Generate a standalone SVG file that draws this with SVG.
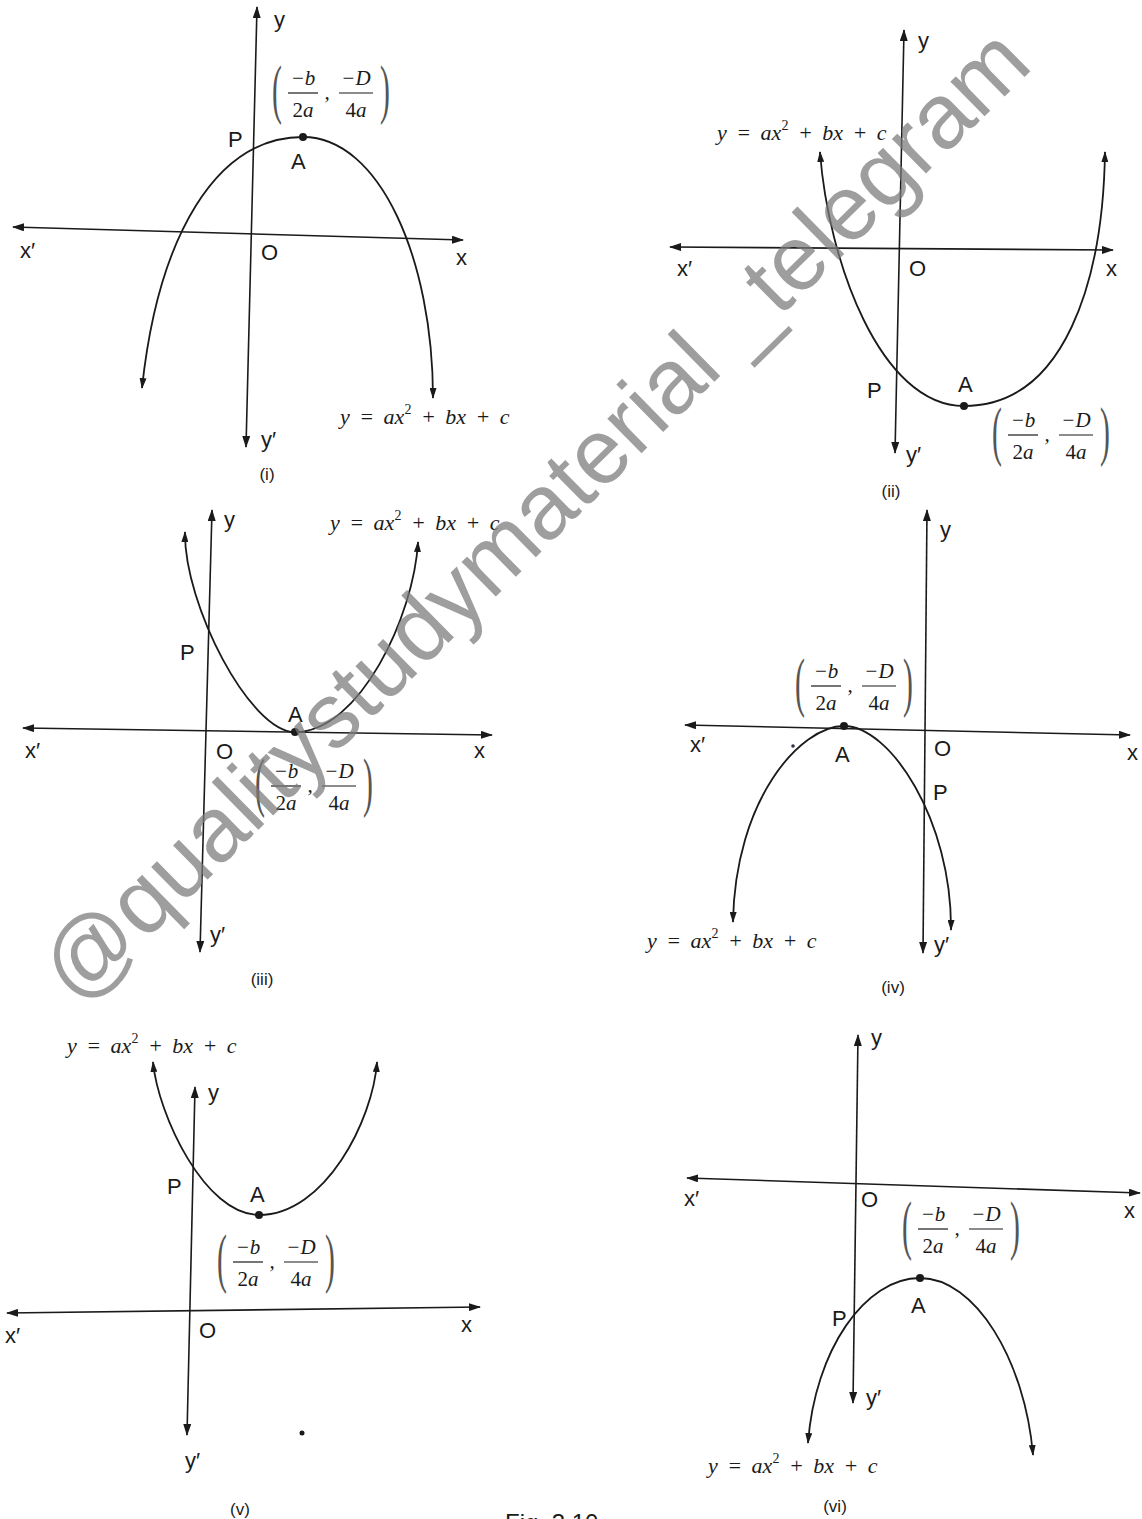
<svg xmlns="http://www.w3.org/2000/svg" width="1142" height="1519" viewBox="0 0 1142 1519">
<defs>
<style>
.ax{stroke:#1a1a1a;stroke-width:1.6;fill:none;marker-start:url(#ah);marker-end:url(#ah)}
.cv{stroke:#1a1a1a;stroke-width:1.8;fill:none;marker-start:url(#ah2);marker-end:url(#ah2)}
.lbl{font-family:"Liberation Sans",Arial,sans-serif;font-size:22px;fill:#1a1a1a}
.cap{font-family:"Liberation Sans",Arial,sans-serif;font-size:17px;fill:#1a1a1a;text-anchor:middle}
.eq{font-family:"Liberation Serif","Times New Roman",serif;font-style:italic;font-size:22px;fill:#1a1a1a;word-spacing:4px}
.sup{font-size:14px;font-style:normal}
.fr{font-family:"Liberation Serif","Times New Roman",serif;font-style:italic;font-size:21px;fill:#1a1a1a;text-anchor:middle}
.rm{font-style:normal}
.bar{stroke:#1a1a1a;stroke-width:1.2}
.par{font-family:"Liberation Serif","Times New Roman",serif;font-size:66px;fill:#555}
.dot{fill:#1a1a1a}
.wm{font-family:"Liberation Sans",Arial,sans-serif;font-size:92px;fill:#7a7a7a;opacity:0.72}
</style>
<marker id="ah" viewBox="0 0 12 8" refX="11" refY="4" markerWidth="12" markerHeight="8" markerUnits="userSpaceOnUse" orient="auto-start-reverse"><path d="M0,0 L12,4 L0,8 z" fill="#1a1a1a"/></marker>
<marker id="ah2" viewBox="0 0 11 7" refX="10" refY="3.5" markerWidth="11" markerHeight="7" markerUnits="userSpaceOnUse" orient="auto-start-reverse"><path d="M0,0 L11,3.5 L0,7 z" fill="#1a1a1a"/></marker>
</defs>
<rect width="1142" height="1519" fill="#fff"/>

<!-- Graph (i) -->
<g id="graph-i">
<g id="conn-i">
<line class="ax" x1="13" y1="227" x2="463" y2="240"/>
<line class="ax" x1="257" y1="7" x2="246" y2="447"/>
<path class="cv" d="M142,388 C158,238 215,137 303,137 C380,137 433,260 433,398"/>
</g>
<circle class="dot" cx="303" cy="137" r="4"/>
<text class="lbl" x="274" y="27">y</text>
<text class="lbl" x="261" y="447">y′</text>
<text class="lbl" x="20" y="258">x′</text>
<text class="lbl" x="456" y="265">x</text>
<text class="lbl" x="261" y="260">O</text>
<text class="lbl" x="228" y="147">P</text>
<text class="lbl" x="291" y="169">A</text>
<text class="eq" x="340" y="424">y = ax<tspan class="sup" dy="-10">2</tspan><tspan dy="10"> + bx + c</tspan></text>
<g transform="translate(272,93)">
<text class="par" transform="translate(0,18) scale(0.45,1)">(</text>
<text class="fr" x="31" y="-8">−b</text><line class="bar" x1="16" y1="0" x2="46" y2="0"/><text class="fr" x="31" y="24"><tspan class="rm">2</tspan>a</text>
<text class="fr" x="55" y="6">,</text>
<text class="fr" x="84" y="-8">−D</text><line class="bar" x1="67" y1="0" x2="101" y2="0"/><text class="fr" x="84" y="24"><tspan class="rm">4</tspan>a</text>
<text class="par" transform="translate(108,18) scale(0.45,1)">)</text>
</g>
<text class="cap" x="267" y="480">(i)</text>
</g>

<!-- Graph (ii) -->
<g id="graph-ii">
<g id="conn-ii">
<line class="ax" x1="670" y1="247" x2="1113" y2="250"/>
<line class="ax" x1="904" y1="30" x2="895" y2="453"/>
<path class="cv" d="M820,152 C828,260 880,406 964,406 C1065,406 1103,280 1105,152"/>
</g>
<circle class="dot" cx="964" cy="406" r="4"/>
<text class="lbl" x="918" y="48">y</text>
<text class="lbl" x="906" y="462">y′</text>
<text class="lbl" x="677" y="276">x′</text>
<text class="lbl" x="1106" y="276">x</text>
<text class="lbl" x="909" y="276">O</text>
<text class="lbl" x="867" y="398">P</text>
<text class="lbl" x="958" y="392">A</text>
<text class="eq" x="717" y="140">y = ax<tspan class="sup" dy="-10">2</tspan><tspan dy="10"> + bx + c</tspan></text>
<g transform="translate(992,435)">
<text class="par" transform="translate(0,18) scale(0.45,1)">(</text>
<text class="fr" x="31" y="-8">−b</text><line class="bar" x1="16" y1="0" x2="46" y2="0"/><text class="fr" x="31" y="24"><tspan class="rm">2</tspan>a</text>
<text class="fr" x="55" y="6">,</text>
<text class="fr" x="84" y="-8">−D</text><line class="bar" x1="67" y1="0" x2="101" y2="0"/><text class="fr" x="84" y="24"><tspan class="rm">4</tspan>a</text>
<text class="par" transform="translate(108,18) scale(0.45,1)">)</text>
</g>
<text class="cap" x="891" y="497">(ii)</text>
</g>

<!-- Graph (iii) -->
<g id="graph-iii">
<g id="conn-iii">
<line class="ax" x1="23" y1="728" x2="492" y2="735"/>
<line class="ax" x1="212" y1="510" x2="200" y2="952"/>
<path class="cv" d="M185,532 C184,605 250,732 295,732 C360,732 414,615 418,542"/>
</g>
<circle class="dot" cx="295" cy="732" r="4"/>
<text class="lbl" x="224" y="527">y</text>
<text class="lbl" x="210" y="942">y′</text>
<text class="lbl" x="25" y="758">x′</text>
<text class="lbl" x="474" y="758">x</text>
<text class="lbl" x="216" y="759">O</text>
<text class="lbl" x="180" y="660">P</text>
<text class="lbl" x="288" y="722">A</text>
<text class="eq" x="330" y="530">y = ax<tspan class="sup" dy="-10">2</tspan><tspan dy="10"> + bx + c</tspan></text>
<g transform="translate(255,786)">
<text class="par" transform="translate(0,18) scale(0.45,1)">(</text>
<text class="fr" x="31" y="-8">−b</text><line class="bar" x1="16" y1="0" x2="46" y2="0"/><text class="fr" x="31" y="24"><tspan class="rm">2</tspan>a</text>
<text class="fr" x="55" y="6">,</text>
<text class="fr" x="84" y="-8">−D</text><line class="bar" x1="67" y1="0" x2="101" y2="0"/><text class="fr" x="84" y="24"><tspan class="rm">4</tspan>a</text>
<text class="par" transform="translate(108,18) scale(0.45,1)">)</text>
</g>
<text class="cap" x="262" y="985">(iii)</text>
</g>

<!-- Graph (iv) -->
<g id="graph-iv">
<g id="conn-iv">
<line class="ax" x1="685" y1="725" x2="1130" y2="735"/>
<line class="ax" x1="927" y1="510" x2="923" y2="953"/>
<path class="cv" d="M733,922 C735,800 800,726 844,726 C890,726 952,820 951,930"/>
</g>
<circle class="dot" cx="844" cy="726" r="4"/>
<circle cx="793" cy="746" r="1.8" fill="#334"/>
<text class="lbl" x="940" y="537">y</text>
<text class="lbl" x="934" y="952">y′</text>
<text class="lbl" x="690" y="752">x′</text>
<text class="lbl" x="1127" y="760">x</text>
<text class="lbl" x="934" y="756">O</text>
<text class="lbl" x="933" y="800">P</text>
<text class="lbl" x="835" y="762">A</text>
<text class="eq" x="647" y="948">y = ax<tspan class="sup" dy="-10">2</tspan><tspan dy="10"> + bx + c</tspan></text>
<g transform="translate(795,686)">
<text class="par" transform="translate(0,18) scale(0.45,1)">(</text>
<text class="fr" x="31" y="-8">−b</text><line class="bar" x1="16" y1="0" x2="46" y2="0"/><text class="fr" x="31" y="24"><tspan class="rm">2</tspan>a</text>
<text class="fr" x="55" y="6">,</text>
<text class="fr" x="84" y="-8">−D</text><line class="bar" x1="67" y1="0" x2="101" y2="0"/><text class="fr" x="84" y="24"><tspan class="rm">4</tspan>a</text>
<text class="par" transform="translate(108,18) scale(0.45,1)">)</text>
</g>
<text class="cap" x="893" y="993">(iv)</text>
</g>

<!-- Graph (v) -->
<g id="graph-v">
<g id="conn-v">
<line class="ax" x1="7" y1="1313" x2="480" y2="1307"/>
<line class="ax" x1="195" y1="1087" x2="187" y2="1435"/>
<path class="cv" d="M153,1062 C158,1115 205,1215 259,1215 C325,1215 373,1120 377,1062"/>
</g>
<circle class="dot" cx="259" cy="1215" r="4"/>
<circle cx="302" cy="1433" r="2.5" fill="#1a1a1a"/>
<text class="lbl" x="208" y="1100">y</text>
<text class="lbl" x="185" y="1468">y′</text>
<text class="lbl" x="5" y="1343">x′</text>
<text class="lbl" x="461" y="1332">x</text>
<text class="lbl" x="199" y="1338">O</text>
<text class="lbl" x="167" y="1194">P</text>
<text class="lbl" x="250" y="1202">A</text>
<text class="eq" x="67" y="1053">y = ax<tspan class="sup" dy="-10">2</tspan><tspan dy="10"> + bx + c</tspan></text>
<g transform="translate(217,1262)">
<text class="par" transform="translate(0,18) scale(0.45,1)">(</text>
<text class="fr" x="31" y="-8">−b</text><line class="bar" x1="16" y1="0" x2="46" y2="0"/><text class="fr" x="31" y="24"><tspan class="rm">2</tspan>a</text>
<text class="fr" x="55" y="6">,</text>
<text class="fr" x="84" y="-8">−D</text><line class="bar" x1="67" y1="0" x2="101" y2="0"/><text class="fr" x="84" y="24"><tspan class="rm">4</tspan>a</text>
<text class="par" transform="translate(108,18) scale(0.45,1)">)</text>
</g>
<text class="cap" x="240" y="1515">(v)</text>
</g>

<!-- Graph (vi) -->
<g id="graph-vi">
<g id="conn-vi">
<line class="ax" x1="687" y1="1178" x2="1140" y2="1193"/>
<line class="ax" x1="858" y1="1035" x2="853" y2="1403"/>
<path class="cv" d="M808,1443 C815,1350 865,1278 920,1278 C975,1278 1025,1360 1033,1455"/>
</g>
<circle class="dot" cx="920" cy="1278" r="4"/>
<text class="lbl" x="871" y="1045">y</text>
<text class="lbl" x="866" y="1405">y′</text>
<text class="lbl" x="684" y="1206">x′</text>
<text class="lbl" x="1124" y="1218">x</text>
<text class="lbl" x="861" y="1207">O</text>
<text class="lbl" x="832" y="1326">P</text>
<text class="lbl" x="911" y="1313">A</text>
<text class="eq" x="708" y="1473">y = ax<tspan class="sup" dy="-10">2</tspan><tspan dy="10"> + bx + c</tspan></text>
<g transform="translate(902,1229)">
<text class="par" transform="translate(0,18) scale(0.45,1)">(</text>
<text class="fr" x="31" y="-8">−b</text><line class="bar" x1="16" y1="0" x2="46" y2="0"/><text class="fr" x="31" y="24"><tspan class="rm">2</tspan>a</text>
<text class="fr" x="55" y="6">,</text>
<text class="fr" x="84" y="-8">−D</text><line class="bar" x1="67" y1="0" x2="101" y2="0"/><text class="fr" x="84" y="24"><tspan class="rm">4</tspan>a</text>
<text class="par" transform="translate(108,18) scale(0.45,1)">)</text>
</g>
<text class="cap" x="835" y="1512">(vi)</text>
</g>

<g id="caption">
<text class="lbl" x="505" y="1531" style="font-size:24px">Fig. 3.10</text>
</g>

<g id="watermark">
<text class="wm" transform="translate(78,1007) rotate(-44.5)">@qualitystudymaterial _telegram</text>
</g>
</svg>
